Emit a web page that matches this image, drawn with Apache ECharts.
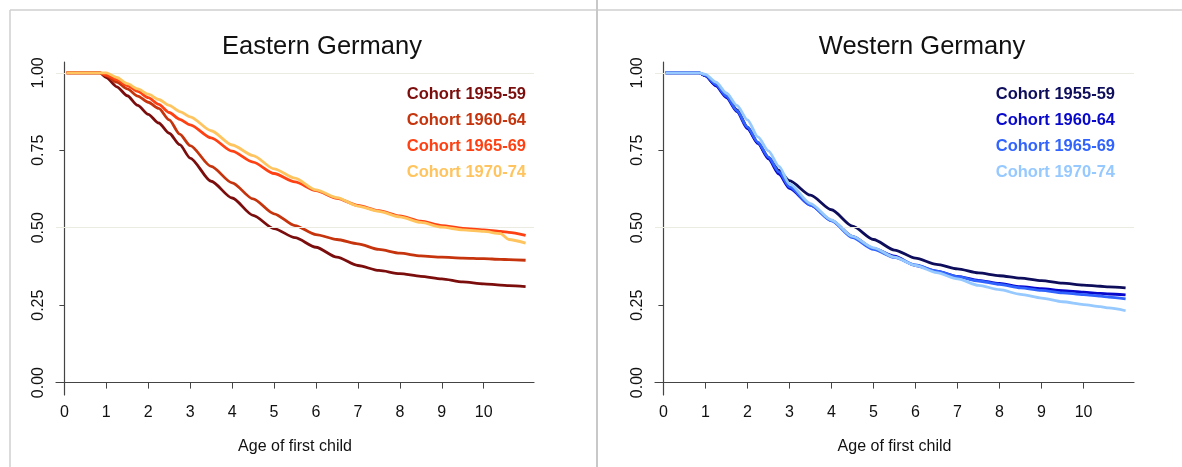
<!DOCTYPE html>
<html>
<head>
<meta charset="utf-8">
<script src="https://cdn.jsdelivr.net/npm/echarts@6/dist/echarts.min.js"></script>
<style>
html, body { margin: 0; padding: 0; background: #fff; }
#chart { width: 1182px; height: 467px; }
</style>
</head>
<body>
<div id="chart"></div>
<script>
// ages (x axis) shared by every curve
var ages = [0.05, 0.85, 1, 1.25, 1.5, 1.75, 2, 2.25, 2.5, 2.75, 3, 3.5, 4, 4.5, 5, 5.5, 6, 6.5, 7, 7.5, 8, 8.5, 9, 9.5, 10, 10.4, 10.6, 11];
var cohorts = ['Cohort 1955-59', 'Cohort 1960-64', 'Cohort 1965-69', 'Cohort 1970-74'];

// Eastern Germany
var east1955 = [1, 1, 0.985, 0.955, 0.926, 0.895, 0.866, 0.838, 0.805, 0.768, 0.725, 0.65, 0.596, 0.54, 0.497, 0.468, 0.437, 0.405, 0.378, 0.362, 0.352, 0.343, 0.335, 0.325, 0.319, 0.315, 0.313, 0.31];
var east1960 = [1, 1, 0.99, 0.97, 0.948, 0.925, 0.905, 0.885, 0.848, 0.802, 0.765, 0.698, 0.645, 0.593, 0.545, 0.507, 0.478, 0.462, 0.448, 0.43, 0.418, 0.409, 0.405, 0.402, 0.4, 0.398, 0.397, 0.395];
var east1965 = [1, 1, 0.993, 0.978, 0.959, 0.94, 0.92, 0.898, 0.872, 0.85, 0.832, 0.79, 0.747, 0.712, 0.675, 0.648, 0.62, 0.595, 0.572, 0.555, 0.538, 0.521, 0.507, 0.498, 0.493, 0.488, 0.485, 0.475];
var east1970 = [1, 1, 1, 0.985, 0.965, 0.948, 0.931, 0.914, 0.895, 0.875, 0.858, 0.813, 0.767, 0.733, 0.69, 0.66, 0.622, 0.597, 0.57, 0.553, 0.535, 0.517, 0.502, 0.493, 0.488, 0.481, 0.462, 0.45];

// Western Germany
var west1955 = [1, 1, 0.99, 0.96, 0.925, 0.88, 0.825, 0.773, 0.727, 0.685, 0.652, 0.605, 0.558, 0.505, 0.462, 0.428, 0.402, 0.382, 0.367, 0.354, 0.345, 0.337, 0.329, 0.321, 0.315, 0.311, 0.309, 0.306];
var west1960 = [1, 1, 0.99, 0.958, 0.92, 0.875, 0.82, 0.772, 0.722, 0.673, 0.627, 0.573, 0.524, 0.472, 0.433, 0.408, 0.378, 0.36, 0.343, 0.33, 0.32, 0.31, 0.303, 0.297, 0.292, 0.288, 0.286, 0.283];
var west1965 = [1, 1, 0.992, 0.962, 0.925, 0.878, 0.825, 0.776, 0.728, 0.68, 0.632, 0.573, 0.522, 0.468, 0.43, 0.404, 0.38, 0.36, 0.342, 0.328, 0.317, 0.306, 0.298, 0.29, 0.284, 0.279, 0.276, 0.27];
var west1970 = [1, 1, 0.995, 0.97, 0.935, 0.895, 0.848, 0.793, 0.748, 0.698, 0.642, 0.578, 0.525, 0.472, 0.435, 0.405, 0.378, 0.355, 0.335, 0.314, 0.3, 0.285, 0.273, 0.261, 0.252, 0.245, 0.241, 0.232];

var eastColors = ['#7b0d0d', '#c5340c', '#ff4012', '#ffc45e'];
var westColors = ['#0d0d5c', '#0808cc', '#3164ff', '#96c9ff'];

var xTicks = [0, 1, 2, 3, 4, 5, 6, 7, 8, 9, 10];
var yTicks = [0, 0.25, 0.5, 0.75, 1];
var gridLines = [0.5, 1];

var font = "'Liberation Sans', Arial, sans-serif";

function pairs(vals) {
    var out = [];
    for (var i = 0; i < ages.length; i++) {
        out.push([ages[i], vals[i]]);
    }
    return out;
}

function makeXAxis(idx) {
    return {
        type: 'value', gridIndex: idx, min: -0.2, max: 11.2,
        name: 'Age of first child', nameLocation: 'middle', nameGap: 44,
        nameTextStyle: { fontFamily: font, fontSize: 16, color: '#111' },
        axisLine: { lineStyle: { color: '#444', width: 1.2 } },
        axisTick: { length: 6, lineStyle: { color: '#444' }, customValues: xTicks },
        axisLabel: { fontFamily: font, fontSize: 16, color: '#111', margin: 10, customValues: xTicks },
        splitLine: { show: false }
    };
}

function makeYAxis(idx) {
    return {
        type: 'value', gridIndex: idx, min: -0.04, max: 1.035,
        axisLine: { show: true, lineStyle: { color: '#444', width: 1.2 } },
        axisTick: { show: true, length: 5, lineStyle: { color: '#444' }, customValues: yTicks },
        axisLabel: {
            fontFamily: font, fontSize: 16, color: '#111', margin: 9, rotate: 90,
            customValues: yTicks,
            formatter: function (v) { return v.toFixed(2); }
        },
        splitLine: { show: false }
    };
}

function makeSeries(idx, list, colors) {
    // empty series only carries the two light grid lines
    var out = [{
        type: 'line', xAxisIndex: idx, yAxisIndex: idx, data: [], z: 1, silent: true,
        markLine: {
            silent: true, symbol: 'none', label: { show: false },
            lineStyle: { color: '#ebebe2', width: 1, type: 'solid' },
            data: gridLines.map(function (g) { return { yAxis: g }; })
        }
    }];
    for (var i = 0; i < list.length; i++) {
        out.push({
            name: cohorts[i], type: 'line', xAxisIndex: idx, yAxisIndex: idx,
            data: pairs(list[i]), showSymbol: false, z: 3 + i,
            smooth: 0.25, smoothMonotone: 'x',
            lineStyle: { color: colors[i], width: 2.8 },
            itemStyle: { color: colors[i] }
        });
    }
    return out;
}

function makeLegend(rightPx, colors) {
    return {
        orient: 'vertical', right: rightPx, top: 84, padding: 0,
        icon: 'rect', itemWidth: 0, itemHeight: 0, itemGap: 6, selectedMode: false,
        textStyle: { fontFamily: font, fontSize: 16.5, fontWeight: 'bold', lineHeight: 20 },
        data: cohorts.map(function (c, i) {
            return { name: c, textStyle: { color: colors[i] } };
        })
    };
}

var myChart = echarts.init(document.getElementById('chart'));
var option = {
    backgroundColor: '#fff',
    animation: false,
    title: [
        { text: 'Eastern Germany', left: 322, top: 34, padding: 0, textAlign: 'center',
          textStyle: { fontFamily: font, fontSize: 25.5, fontWeight: 'normal', color: '#111' } },
        { text: 'Western Germany', left: 922, top: 34, padding: 0, textAlign: 'center',
          textStyle: { fontFamily: font, fontSize: 25.5, fontWeight: 'normal', color: '#111' } }
    ],
    legend: [makeLegend(656, eastColors), makeLegend(67, westColors)],
    grid: [
        { left: 56, top: 62, width: 478, height: 333 },
        { left: 655, top: 62, width: 479, height: 333 }
    ],
    xAxis: [makeXAxis(0), makeXAxis(1)],
    yAxis: [makeYAxis(0), makeYAxis(1)],
    series: makeSeries(0, [east1955, east1960, east1965, east1970], eastColors)
        .concat(makeSeries(1, [west1955, west1960, west1965, west1970], westColors)),
    graphic: [
        { type: 'line', shape: { x1: 10, y1: 10, x2: 1182, y2: 10 }, style: { stroke: '#cfcfcf', lineWidth: 1.5 }, silent: true },
        { type: 'line', shape: { x1: 10, y1: 10, x2: 10, y2: 467 }, style: { stroke: '#cfcfcf', lineWidth: 1.5 }, silent: true },
        { type: 'line', shape: { x1: 597, y1: 0, x2: 597, y2: 467 }, style: { stroke: '#c8c8c8', lineWidth: 2 }, silent: true }
    ]
};
myChart.setOption(option);
</script>
</body>
</html>
